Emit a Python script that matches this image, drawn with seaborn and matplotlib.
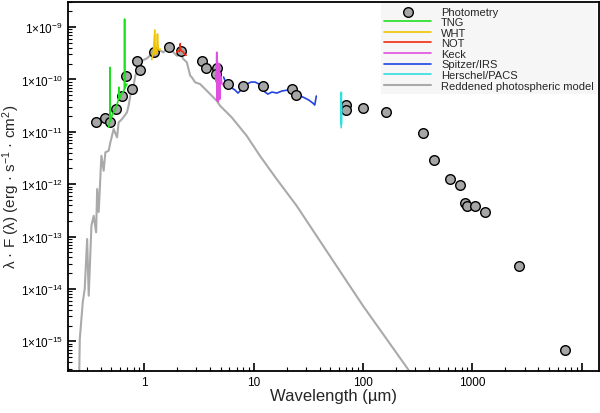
import numpy as np
import pandas as pd
import matplotlib
matplotlib.use("Agg")
import matplotlib.pyplot as plt
import matplotlib.ticker as mticker
import seaborn as sns

# photometry (wavelength in micron, lambda*F in erg s-1 cm-2)
phot_wave = [0.363, 0.441, 0.483, 0.556, 0.626, 0.681, 0.773, 0.863, 0.914, 1.24, 1.68, 2.17,
             3.36, 3.64, 4.58, 4.53, 5.87, 8.03, 12.2, 22.2, 24.3, 70.5, 70.5, 100, 161,
             352, 450, 629, 771, 849, 885, 1056, 1312, 2693, 6982]
phot_flux = [1.54e-11, 1.86e-11, 1.52e-11, 2.72e-11, 4.76e-11, 1.18e-10, 6.56e-11, 2.21e-10, 1.49e-10,
             3.38e-10, 4.21e-10, 3.53e-10, 2.24e-10, 1.63e-10, 1.65e-10, 1.26e-10, 8.24e-11, 7.65e-11,
             7.48e-11, 6.65e-11, 5.1e-11, 3.25e-11, 2.58e-11, 2.82e-11, 2.39e-11, 9.6e-12, 2.94e-12,
             1.26e-12, 9.8e-13, 4.32e-13, 3.79e-13, 3.89e-13, 2.99e-13, 2.75e-14, 6.85e-16]

# spectra
tng_wave = [0.473, 0.480, 0.486, 0.487, 0.489, 0.50, 0.52, 0.544, 0.56, 0.583, 0.588, 0.592,
            0.61, 0.63, 0.648, 0.658, 0.661, 0.664, 0.68, 0.695]
tng_flux = [1.22e-11, 1.5e-11, 1.7e-11, 1.70e-10, 1.6e-11, 1.9e-11, 2.3e-11, 2.7e-11, 3.2e-11,
            4.2e-11, 7.1e-11, 4.3e-11, 5.0e-11, 5.5e-11, 6.1e-11, 6.5e-11, 1.42e-9, 6.8e-11,
            7.5e-11, 8.2e-11]

wht_wave = [1.17, 1.21, 1.25, 1.26, 1.28, 1.30, 1.32, 1.34, 1.37, 1.40]
wht_flux = [2.4e-10, 3.2e-10, 8.8e-10, 3.0e-10, 3.5e-10, 3.2e-10, 7.4e-10, 4.0e-10, 3.6e-10, 3.8e-10]

not_wave = [1.98, 2.03, 2.08, 2.12, 2.13, 2.15, 2.2, 2.28, 2.35, 2.42]
not_flux = [3.3e-10, 3.6e-10, 3.4e-10, 3.7e-10, 4.8e-10, 3.6e-10, 3.5e-10, 3.3e-10, 3.0e-10, 2.9e-10]

keck_wave = [4.50, 4.55, 4.60, 4.63, 4.66, 4.70, 4.74, 4.78, 4.82, 4.86, 4.90, 4.95, 5.0, 5.05, 5.1, 5.2]
keck_flux = [1.2e-10, 9e-11, 3.3e-10, 4e-11, 2.2e-10, 1.5e-10, 3.8e-11, 1.7e-10, 1.1e-10, 2.0e-10,
             4.2e-11, 1.3e-10, 9e-11, 1.1e-10, 8.5e-11, 8e-11]

irs_wave = [5.31, 5.59, 5.95, 6.34, 6.75, 7.19, 7.50, 7.99, 8.69, 9.45, 10.3, 11.2, 11.9, 12.7,
            13.5, 14.7, 16.3, 18.1, 20.5, 22.8, 24.8, 27.0, 29.4, 31.9, 34.7, 36.2, 37.4]
irs_flux = [1.11e-10, 8.54e-11, 7.48e-11, 6.85e-11, 6.28e-11, 5.50e-11, 6.01e-11, 7.16e-11, 8.17e-11,
            8.92e-11, 8.92e-11, 8.17e-11, 6.85e-11, 5.75e-11, 5.26e-11, 5.75e-11, 5.50e-11, 6.01e-11,
            6.28e-11, 5.75e-11, 5.04e-11, 4.82e-11, 4.42e-11, 4.05e-11, 3.55e-11, 3.25e-11, 4.82e-11]

pacs_wave = [63.2, 63.3, 63.4, 63.5]
pacs_flux = [1.2e-11, 5.7e-11, 1.4e-11, 3.0e-11]

model_wave = [0.254, 0.2574, 0.274, 0.2855, 0.3005, 0.3106, 0.3288, 0.345, 0.363, 0.371, 0.3833,
              0.4055, 0.4256, 0.441, 0.4727, 0.49, 0.525, 0.564, 0.583, 0.626, 0.695, 0.719, 0.7454,
              0.799, 0.828, 0.887, 0.953, 1.058, 1.216, 1.399, 1.50, 1.61, 1.726, 1.85, 1.99, 2.13,
              2.28, 2.45, 2.63, 2.72, 2.92, 3.24, 3.60, 3.86, 4.14, 4.60, 4.93, 5.67, 6.30, 8.63,
              11.4, 16.2, 24.7, 49.6, 99.8, 257, 300]
model_flux = [2.0e-16, 1.11e-15, 5.57e-15, 1.0e-14, 9.0e-14, 7.45e-15, 1.61e-13, 2.5e-13, 1.21e-13,
              8.1e-13, 2.95e-13, 3.5e-12, 1.81e-12, 4.06e-12, 4.36e-12, 6.3e-12, 1.13e-11, 7.85e-12,
              1.52e-11, 1.75e-11, 2.36e-11, 3.15e-11, 4.89e-11, 7.59e-11, 1.18e-10, 1.70e-10, 2.27e-10,
              2.53e-10, 3.29e-10, 3.53e-10, 3.29e-10, 3.92e-10, 3.8e-10, 3.29e-10, 2.83e-10, 3.05e-10,
              2.45e-10, 2.12e-10, 1.18e-10, 1.10e-10, 8.8e-11, 8.17e-11, 6.56e-11, 5.67e-11, 4.89e-11,
              3.92e-11, 3.15e-11, 2.36e-11, 1.89e-11, 8.43e-12, 3.5e-12, 1.26e-12, 3.89e-13, 4.32e-14,
              4.8e-15, 2.97e-16, 1.87e-16]

x_ticks = [1, 10, 100, 1000, 10000]
x_ticklabels = ["1", "10", "100", "1000", ""]
y_exponents = [-15, -14, -13, -12, -11, -10, -9]

sns.set_style("ticks")
plt.rcParams['font.family'] = ['Liberation Sans', 'DejaVu Sans']
plt.rcParams['mathtext.default'] = 'regular'

fig = plt.figure(figsize=(6, 4.14), dpi=100)
ax = fig.add_axes([0.113, 0.102, 0.885, 0.8915])

spectra = [
    ("TNG", tng_wave, tng_flux, "#1ee01e", 4),
    ("WHT", wht_wave, wht_flux, "#f2c400", 4),
    ("NOT", not_wave, not_flux, "#f02a10", 4),
    ("Keck", keck_wave, keck_flux, "#e050e0", 4),
    ("Spitzer/IRS", irs_wave, irs_flux, "#2244e0", 2.5),
    ("Herschel/PACS", pacs_wave, pacs_flux, "#30e0e0", 4),
]

sns.lineplot(x=model_wave, y=model_flux, sort=False, estimator=None, color="#aaaaaa",
             linewidth=1.5, ax=ax, zorder=2, label="Reddened photospheric model")
for name, w, f, c, z in spectra:
    sns.lineplot(x=w, y=f, sort=False, estimator=None, color=c, linewidth=1.2,
                 ax=ax, zorder=z, label=name)
sns.scatterplot(x=phot_wave, y=phot_flux, s=48, color="#a6a6a6", edgecolor="black",
                linewidth=1.0, ax=ax, zorder=3, label="Photometry")

ax.set_xscale("log")
ax.set_yscale("log")
ax.set_xlim(0.2, 14300)
ax.set_ylim(2.75e-16, 3.05e-9)

ax.set_xticks(x_ticks, x_ticklabels)
ax.xaxis.set_minor_locator(mticker.LogLocator(base=10, subs=np.arange(2, 10), numticks=20))
ax.xaxis.set_minor_formatter(mticker.NullFormatter())
ax.set_yticks([10.0 ** e for e in y_exponents],
              [r"1$\times$10$^{%d}$" % e for e in y_exponents])
ax.yaxis.set_minor_locator(mticker.LogLocator(base=10, subs=np.arange(2, 10), numticks=20))
ax.yaxis.set_minor_formatter(mticker.NullFormatter())

ax.tick_params(which="both", direction="in", top=False, right=False, colors="black", labelsize=8.5)
ax.tick_params(which="major", length=6, width=1.2)
ax.tick_params(which="minor", length=3, width=0.8)
for sp in ax.spines.values():
    sp.set_linewidth(1.3)
    sp.set_color("black")

ax.set_xlabel("Wavelength (µm)", fontsize=12, labelpad=0)
ax.set_ylabel(r"λ · F (λ) (erg · s$^{-1}$ · cm$^{2}$)", fontsize=11, labelpad=-1)

handles, labels = ax.get_legend_handles_labels()
order = ["Photometry", "TNG", "WHT", "NOT", "Keck", "Spitzer/IRS", "Herschel/PACS",
         "Reddened photospheric model"]
hmap = dict(zip(labels, handles))
leg = ax.legend([hmap[o] for o in order], order, loc="upper right", fontsize=8,
                frameon=True, facecolor="#f6f6f6", edgecolor="none", framealpha=1,
                labelspacing=0.05, handlelength=4.2, handletextpad=0.9,
                borderpad=0.3, borderaxespad=0.15, fancybox=False)

fig.savefig("out.png", dpi=100)
